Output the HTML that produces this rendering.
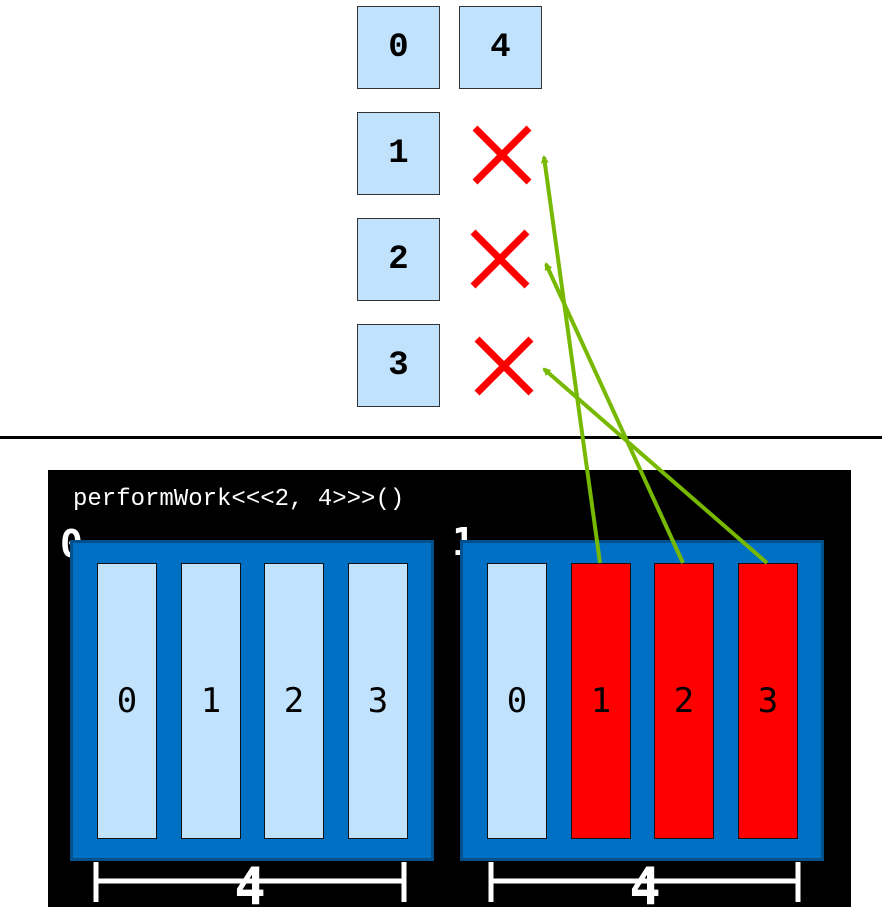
<!DOCTYPE html>
<html><head><style>
body{margin:0;width:882px;height:922px;background:#fff;position:relative;overflow:hidden;font-family:"Liberation Mono","DejaVu Sans Mono",monospace}
.sq{position:absolute;width:83px;height:83px;background:#c0e2fc;border:1px solid #333;box-sizing:border-box;font-weight:bold;font-size:34px;display:flex;align-items:center;justify-content:center}
.col{position:absolute;top:563px;width:60px;height:276px;background:#c0e2fc;border:1px solid #111;box-sizing:border-box;font-size:34px;display:flex;align-items:center;justify-content:center;font-family:"DejaVu Sans Mono",monospace}
.red{background:#ff0000}
.blk{position:absolute;top:540px;width:364px;height:321px;background:#0070c4;border:3px solid #00508c;box-sizing:border-box}
.lbl{position:absolute;color:#fff;font-weight:bold;font-size:38px;font-family:"DejaVu Sans Mono",monospace}
</style></head><body>
<div class="sq" style="left:357px;top:6px">0</div>
<div class="sq" style="left:459px;top:6px">4</div>
<div class="sq" style="left:357px;top:112px">1</div>
<div class="sq" style="left:357px;top:218px">2</div>
<div class="sq" style="left:357px;top:324px">3</div>
<div style="position:absolute;left:0;top:436px;width:882px;height:3px;background:#000"></div>
<div style="position:absolute;left:48px;top:470px;width:803px;height:437px;background:#000"></div>
<div style="position:absolute;left:73px;top:486px;color:#fff;font-size:24px;font-family:'Liberation Mono',monospace">performWork&lt;&lt;&lt;2, 4&gt;&gt;&gt;()</div>
<div class="lbl" style="left:60px;top:522px">0</div>
<div class="lbl" style="left:452px;top:520px">1</div>
<div class="blk" style="left:70px"></div>
<div class="blk" style="left:460px"></div>
<div class="col" style="left:97px">0</div>
<div class="col" style="left:181px">1</div>
<div class="col" style="left:264px">2</div>
<div class="col" style="left:348px">3</div>
<div class="col" style="left:487px">0</div>
<div class="col red" style="left:571px">1</div>
<div class="col red" style="left:654px">2</div>
<div class="col red" style="left:738px">3</div>
<svg width="882" height="922" style="position:absolute;left:0;top:0">
<g stroke="#ff0000" stroke-width="7">
<line x1="475" y1="128" x2="529" y2="182"/><line x1="529" y1="128" x2="475" y2="182"/>
<line x1="473" y1="232" x2="527" y2="286"/><line x1="527" y1="232" x2="473" y2="286"/>
<line x1="477" y1="339" x2="531" y2="393"/><line x1="531" y1="339" x2="477" y2="393"/>
</g>
<g stroke="#fff" stroke-width="5">
<line x1="96" y1="862" x2="96" y2="902"/><line x1="404" y1="862" x2="404" y2="902"/><line x1="96" y1="881" x2="404" y2="881"/>
<line x1="491" y1="862" x2="491" y2="902"/><line x1="798" y1="862" x2="798" y2="902"/><line x1="491" y1="881" x2="798" y2="881"/>
</g>
<text x="250" y="904" fill="#fff" font-size="52" font-weight="bold" text-anchor="middle" font-family="DejaVu Sans Mono,monospace">4</text>
<text x="645" y="904" fill="#fff" font-size="52" font-weight="bold" text-anchor="middle" font-family="DejaVu Sans Mono,monospace">4</text>
<defs><marker id="a" markerWidth="8" markerHeight="8" refX="6" refY="4" orient="auto" markerUnits="userSpaceOnUse"><path d="M0,0 L8,4 L0,8 Z" fill="#76b900"/></marker></defs>
<g stroke="#76b900" stroke-width="4" fill="none">
<line x1="600" y1="563" x2="544" y2="157" marker-end="url(#a)"/>
<line x1="683" y1="563" x2="546" y2="264" marker-end="url(#a)"/>
<line x1="767" y1="563" x2="544" y2="369" marker-end="url(#a)"/>
</g>
</svg>
</body></html>
